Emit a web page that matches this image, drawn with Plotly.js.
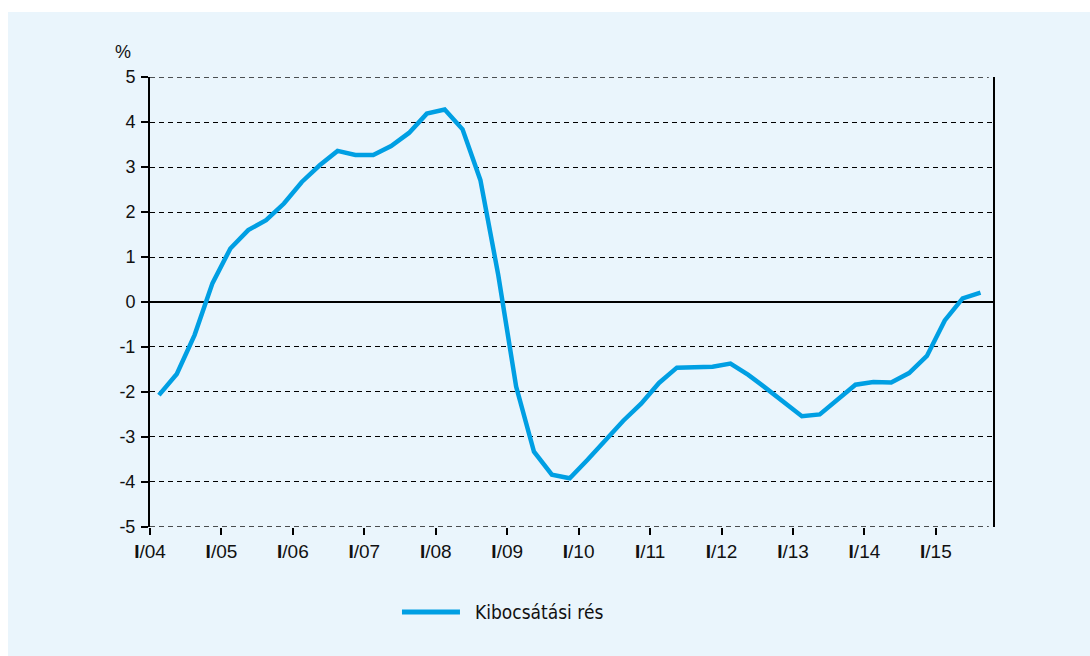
<!DOCTYPE html>
<html>
<head>
<meta charset="utf-8">
<script src="https://cdn.plot.ly/plotly-3.0.1.min.js"></script>
<style>
html,body{margin:0;padding:0;background:#ffffff;}
#chart{position:absolute;left:8px;top:12px;width:1082px;height:644px;}
</style>
</head>
<body>
<div id="chart"></div>
<script>
// Quarterly data 2004Q1 .. 2015Q3
const quarterPos = [];
for (let i = 0; i < 47; i++) quarterPos.push(i + 0.5);

const outputGap = [
  -2.07, -1.60, -0.73, 0.42,
  1.19, 1.60, 1.82, 2.19,
  2.67, 3.04, 3.36, 3.27,
  3.27, 3.47, 3.76, 4.19,
  4.28, 3.84, 2.71, 0.60,
  -1.88, -3.33, -3.84, -3.92,
  -3.51, -3.08, -2.64, -2.26,
  -1.80, -1.46, -1.45, -1.44,
  -1.37, -1.62, -1.92, -2.22,
  -2.54, -2.50, -2.18, -1.84,
  -1.78, -1.79, -1.58, -1.20,
  -0.41, 0.08, 0.21
];

const seriesName = 'Kibocsátási rés';
const tickPositions = [0, 4, 8, 12, 16, 20, 24, 28, 32, 36, 40, 44];
const tickLabels = ['<b>I</b>/04','<b>I</b>/05','<b>I</b>/06','<b>I</b>/07','<b>I</b>/08','<b>I</b>/09',
                    '<b>I</b>/10','<b>I</b>/11','<b>I</b>/12','<b>I</b>/13','<b>I</b>/14','<b>I</b>/15'];
const yTicks = [-5,-4,-3,-2,-1,0,1,2,3,4,5];
const yTickLabels = ['-5','-4','-3','-2','-1','0','1','2','3','4','5'];

const bg = '#EAF5FC';
const lineColor = '#009FE3';
const labelFont = 'Liberation Sans, Arial, Helvetica, sans-serif';
const narrowFont = 'DejaVu Sans Condensed, Liberation Sans, sans-serif';

const trace = {
  x: quarterPos,
  y: outputGap,
  type: 'scatter',
  mode: 'lines',
  name: seriesName,
  line: {color: lineColor, width: 4.5},
  hoverinfo: 'skip',
  showlegend: false
};

// boundary grid lines (top and bottom tick values)
const edgeGrid = [yTicks[0], yTicks[yTicks.length - 1]].map(v => ({
  type: 'line', xref: 'paper', yref: 'y',
  x0: 0, x1: 0.995, y0: v, y1: v,
  layer: 'below',
  line: {color: '#000', width: 1, dash: '5px,4px'}
}));

const layout = {
  width: 1082,
  height: 644,
  paper_bgcolor: bg,
  plot_bgcolor: bg,
  margin: {l: 142, r: 97, t: 65, b: 129},
  showlegend: false,
  xaxis: {
    range: [0, 47.2],
    tickvals: tickPositions,
    ticktext: tickLabels,
    showgrid: false,
    zeroline: false,
    showline: false,
    ticks: 'outside',
    ticklen: 7,
    tickwidth: 2,
    tickcolor: '#000',
    tickfont: {family: labelFont, size: 19, color: '#111'},
    fixedrange: true
  },
  yaxis: {
    range: [-5.004, 5.004],
    tickvals: yTicks,
    ticktext: yTickLabels,
    showgrid: true,
    gridcolor: '#000',
    gridwidth: 1,
    griddash: '5px,4px',
    zeroline: true,
    zerolinecolor: '#000',
    zerolinewidth: 2,
    showline: true,
    linecolor: '#000',
    linewidth: 2,
    mirror: true,
    ticks: 'outside',
    ticklen: 7,
    tickwidth: 2,
    tickcolor: '#000',
    ticklabelstandoff: 2,
    tickfont: {family: labelFont, size: 18, color: '#111'},
    fixedrange: true
  },
  shapes: edgeGrid.concat([{
    type: 'line',
    xref: 'paper', yref: 'paper',
    x0: 0.2989, x1: 0.3677, y0: -0.1889, y1: -0.1889,
    line: {color: lineColor, width: 5}
  }]),
  annotations: [{
    text: '%',
    xref: 'paper', yref: 'paper',
    x: -0.032, y: 1.055,
    xanchor: 'center', yanchor: 'middle',
    showarrow: false,
    font: {family: labelFont, size: 18, color: '#111'}
  }, {
    text: seriesName,
    xref: 'paper', yref: 'paper',
    x: 0.3832, y: -0.1889,
    xanchor: 'left', yanchor: 'middle',
    showarrow: false,
    font: {family: narrowFont, size: 19, color: '#111'}
  }]
};

Plotly.newPlot('chart', [trace], layout, {displayModeBar: false, staticPlot: true});
</script>
</body>
</html>
